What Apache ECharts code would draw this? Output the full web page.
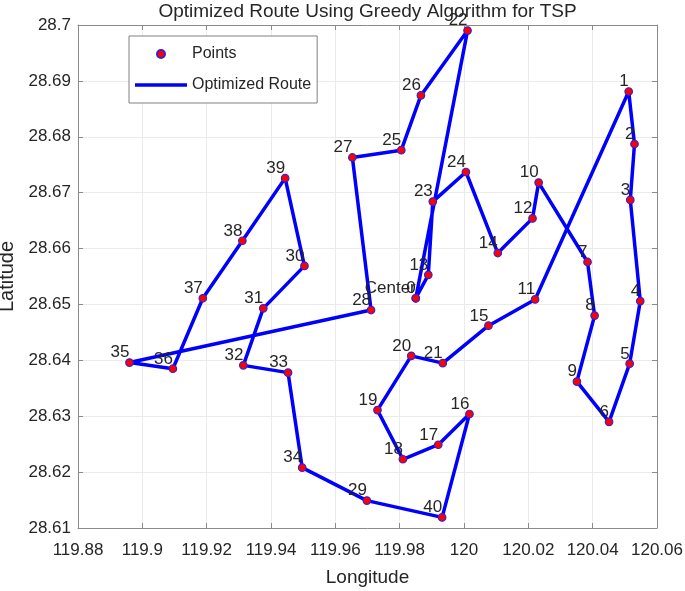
<!DOCTYPE html>
<html>
<head>
<meta charset="utf-8">
<script src="https://cdn.jsdelivr.net/npm/echarts@6/dist/echarts.min.js"></script>
<style>
html,body{margin:0;padding:0;background:#fff;}
#chart{width:685px;height:591px;}
</style>
</head>
<body>
<div id="chart"></div>
<script>
// Point ids 0..40 (0 = Center)
const pointLabels = ['0','1','2','3','4','5','6','7','8','9','10','11','12','13','14','15','16','17','18','19','20',
  '21','22','23','24','25','26','27','28','29','30','31','32','33','34','35','36','37','38','39','40'];
const lon = [119.9850,120.0512,120.0530,120.0517,120.0548,120.0515,120.0451,120.0384,120.0406,120.0351,
  120.0232,120.0221,120.0213,119.9889,120.0105,120.0076,120.0017,119.9920,119.9810,119.9731,
  119.9836,119.9934,120.0011,119.9903,120.0006,119.9805,119.9866,119.9653,119.9711,119.9698,
  119.9504,119.9376,119.9314,119.9453,119.9497,119.8960,119.9095,119.9188,119.9311,119.9444,119.9932];
const lat = [28.6511,28.6881,28.6787,28.6687,28.6506,28.6394,28.6290,28.6576,28.6480,28.6362,
  28.6718,28.6509,28.6654,28.6553,28.6592,28.6462,28.6304,28.6249,28.6223,28.6311,
  28.6408,28.6395,28.6990,28.6684,28.6737,28.6776,28.6874,28.6763,28.6490,28.6149,
  28.6569,28.6493,28.6391,28.6378,28.6208,28.6396,28.6385,28.6511,28.6614,28.6726,28.6119];
const route = [0,13,23,24,14,12,10,7,8,9,6,5,4,3,2,1,11,15,21,20,19,18,17,16,40,29,34,33,32,31,30,39,38,37,36,35,28,27,25,26,22,0];
const centerIndex = 0;
const centerLabel = 'Center';
const xTicks = {min:119.88, max:120.06, interval:0.02};
const yTicks = {min:28.61, max:28.70, interval:0.01};
const titleText = 'Optimized Route Using Greedy Algorithm for TSP';

const FONT = 'Liberation Sans, Arial, sans-serif';
const txtColor = '#262626';
const axisColor = '#8a8a8a';
const gridColor = '#ebebeb';

const pointData = pointLabels.map((n,i)=>({name:n, value:[lon[i], lat[i]]}));
const routeData = route.map(i=>[lon[i], lat[i]]);
const fmt = v => String(parseFloat(v.toFixed(2)));

const labelCfg = {
  show:true, position:'top', distance:0, align:'right', verticalAlign:'bottom',
  offset:[0,3], formatter:'{b}', fontFamily:FONT, fontSize:17, color:txtColor
};
const pointStyle = {color:'#ff0000', borderColor:'#3c1fd0', borderWidth:1.2, opacity:1};

const chart = echarts.init(document.getElementById('chart'));
const baseAxis = {
  type:'value', axisLine:{show:true, onZero:false, lineStyle:{color:axisColor, width:1}},
  axisTick:{show:true, inside:true, length:5, lineStyle:{color:axisColor}},
};
chart.setOption({
  animation:false,
  backgroundColor:'#fff',
  graphic:[{type:'text', x:367.5, y:2, style:{text:titleText, fontFamily:FONT, fontSize:19, fill:txtColor, align:'center', verticalAlign:'top'}}],
  legend:{
    left:129, top:36, orient:'vertical', itemWidth:52, itemHeight:8, itemGap:15,
    padding:[10,6,10,6], borderColor:'#808080', borderWidth:1, backgroundColor:'#fff',
    textStyle:{fontFamily:FONT, fontSize:16, color:txtColor},
    data:[{name:'Points', icon:'circle'}, {name:'Optimized Route', icon:'path://M0,0L52,0L52,3.5L0,3.5Z'}]
  },
  grid:{left:78, right:28, top:25, bottom:63, containLabel:false, outerBoundsMode:'none'},
  xAxis:[
    Object.assign({}, baseAxis, {min:xTicks.min, max:xTicks.max, interval:xTicks.interval, position:'bottom',
      name:'Longitude', nameLocation:'middle', nameGap:40,
      nameTextStyle:{fontFamily:FONT, fontSize:19, color:txtColor},
      axisLabel:{fontFamily:FONT, fontSize:17, color:txtColor, margin:14, formatter:fmt},
      splitLine:{show:true, lineStyle:{color:gridColor, width:1}}}),
    Object.assign({}, baseAxis, {min:xTicks.min, max:xTicks.max, interval:xTicks.interval, position:'top',
      axisLabel:{show:false}, splitLine:{show:false}})
  ],
  yAxis:[
    Object.assign({}, baseAxis, {min:yTicks.min, max:yTicks.max, interval:yTicks.interval, position:'left',
      name:'Latitude', nameLocation:'middle', nameGap:54,
      nameTextStyle:{fontFamily:FONT, fontSize:20, color:txtColor},
      axisLabel:{fontFamily:FONT, fontSize:17, color:txtColor, margin:7, formatter:fmt},
      splitLine:{show:true, lineStyle:{color:gridColor, width:1}}}),
    Object.assign({}, baseAxis, {min:yTicks.min, max:yTicks.max, interval:yTicks.interval, position:'right',
      axisLabel:{show:false}, splitLine:{show:false}})
  ],
  series:[
    {name:'Optimized Route', type:'line', data:routeData, symbol:'none', z:2,
      lineStyle:{color:'#0000ff', width:3.5}, itemStyle:{color:'#0000ff'}},
    {name:'CenterLabel', type:'scatter', silent:true, symbolSize:7.5, z:3,
      data:[{name:centerLabel, value:[lon[centerIndex], lat[centerIndex]]}],
      itemStyle:pointStyle, label:labelCfg},
    {name:'Points', type:'scatter', data:pointData, symbol:'circle', symbolSize:7.5, z:4,
      itemStyle:pointStyle, label:labelCfg}
  ]
});
</script>
</body>
</html>
